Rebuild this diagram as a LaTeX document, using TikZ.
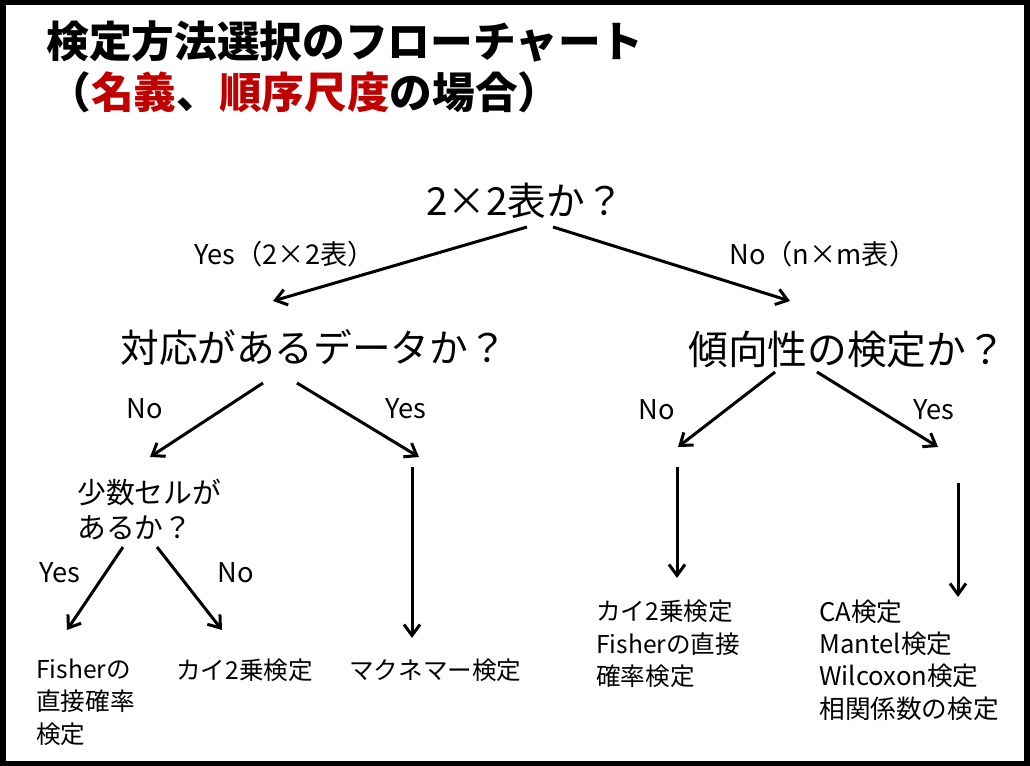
\documentclass[tikz,border=0pt]{standalone}
\usepackage{fontspec}
\setmainfont{Noto Sans CJK JP}
\usepackage{tikz}
\usetikzlibrary{arrows.meta}
\definecolor{scalered}{RGB}{192,0,0}

\begin{document}
\begin{tikzpicture}[x=0.02cm,y=-0.02cm,>={Straight Barb[length=0.22cm,width=0.32cm]},->]
        \tikzset{question/.style={inner sep=0pt,anchor=west,font=\fontsize{22}{26}\selectfont}}
        \tikzset{answer/.style={inner sep=0pt,font=\fontsize{15.5}{18}\selectfont}}
        \tikzset{test/.style={inner sep=0pt,anchor=west,align=left,font=\fontsize{14}{18.4}\selectfont}}
        \tikzset{branch/.style={line width=0.06cm}}

        \useasboundingbox (0,0) rectangle (1030,766);
        \draw[line width=0.12cm] (3,2.5) rectangle (1027,763.5);

        \node[inner sep=0pt,anchor=west,font=\bfseries\fontsize{24.3}{28}\selectfont] (title) at (46,41) {検定方法選択のフローチャート};
        \node[inner sep=0pt,anchor=west,font=\bfseries\fontsize{24.3}{28}\selectfont] (subtitle) at (48,92.5)
            {（\textcolor{scalered}{名義}、\textcolor{scalered}{順序尺度}の場合）};

        \node[question] (Q1) at (426,201) {2×2表か？};
        \node[question] (Q2) at (120,348) {対応があるデータか？};
        \node[question,font=\fontsize{22.6}{26}\selectfont] (Q3) at (688,349) {傾向性の検定か？};
        \node[inner sep=0pt,anchor=west,align=left,font=\fontsize{16.4}{19.8}\selectfont] (Q4) at (77,509.5) {少数セルが\\あるか？};

        \node[answer,anchor=west] (yes1) at (194,254) {Yes（2×2表）};
        \node[answer,anchor=west] (no1) at (729,254) {No（n×m表）};
        \node[answer] (no2) at (145,409) {No};
        \node[answer] (yes2) at (406,409) {Yes};
        \node[answer] (no3) at (657,410) {No};
        \node[answer] (yes3) at (934,410) {Yes};
        \node[answer] (yes4) at (60,573) {Yes};
        \node[answer] (no4) at (236,573) {No};

        \node[test] (fisher) at (36,702) {Fisherの\\直接確率\\検定};
        \node[test] (chi) at (176,670) {カイ2乗検定};
        \node[test] (mcnemar) at (349,670) {マクネマー検定};
        \node[test] (nominal) at (596,644) {カイ2乗検定\\Fisherの直接\\確率検定};
        \node[test,font=\fontsize{14.6}{18.4}\selectfont] (trend) at (819,660) {CA検定\\Mantel検定\\Wilcoxon検定\\相関係数の検定};

        \coordinate (Q1l) at (527,227);  \coordinate (Q2t) at (273,301);
        \coordinate (Q1r) at (553,227);  \coordinate (Q3t) at (790,301);
        \coordinate (Q2l) at (263,383);  \coordinate (Q4t) at (150,457);
        \coordinate (Q2r) at (297,383);  \coordinate (Q2e) at (419,457);
        \coordinate (Q3l) at (775,372);  \coordinate (Q3e) at (678,447);
        \coordinate (Q3r) at (817,372);  \coordinate (Q3f) at (938,447);
        \coordinate (Q4l) at (123,547);  \coordinate (Q4e) at (67,630);
        \coordinate (Q4r) at (157,547);  \coordinate (Q4f) at (222,630);
        \coordinate (mcn) at (412,467);  \coordinate (mcnt) at (412,638);
        \coordinate (nom) at (677,467);  \coordinate (nomt) at (677,578);
        \coordinate (trd) at (958,483);  \coordinate (trdt) at (958,597);

        \path[branch] (Q1l) edge (Q2t);
        \path[branch] (Q1r) edge (Q3t);
        \path[branch] (Q2l) edge (Q4t);
        \path[branch] (Q2r) edge (Q2e);
        \path[branch] (Q3l) edge (Q3e);
        \path[branch] (Q3r) edge (Q3f);
        \path[branch] (Q4l) edge (Q4e);
        \path[branch] (Q4r) edge (Q4f);
        \path[branch] (mcn) edge (mcnt);
        \path[branch] (nom) edge (nomt);
        \path[branch] (trd) edge (trdt);
\end{tikzpicture}
\end{document}
